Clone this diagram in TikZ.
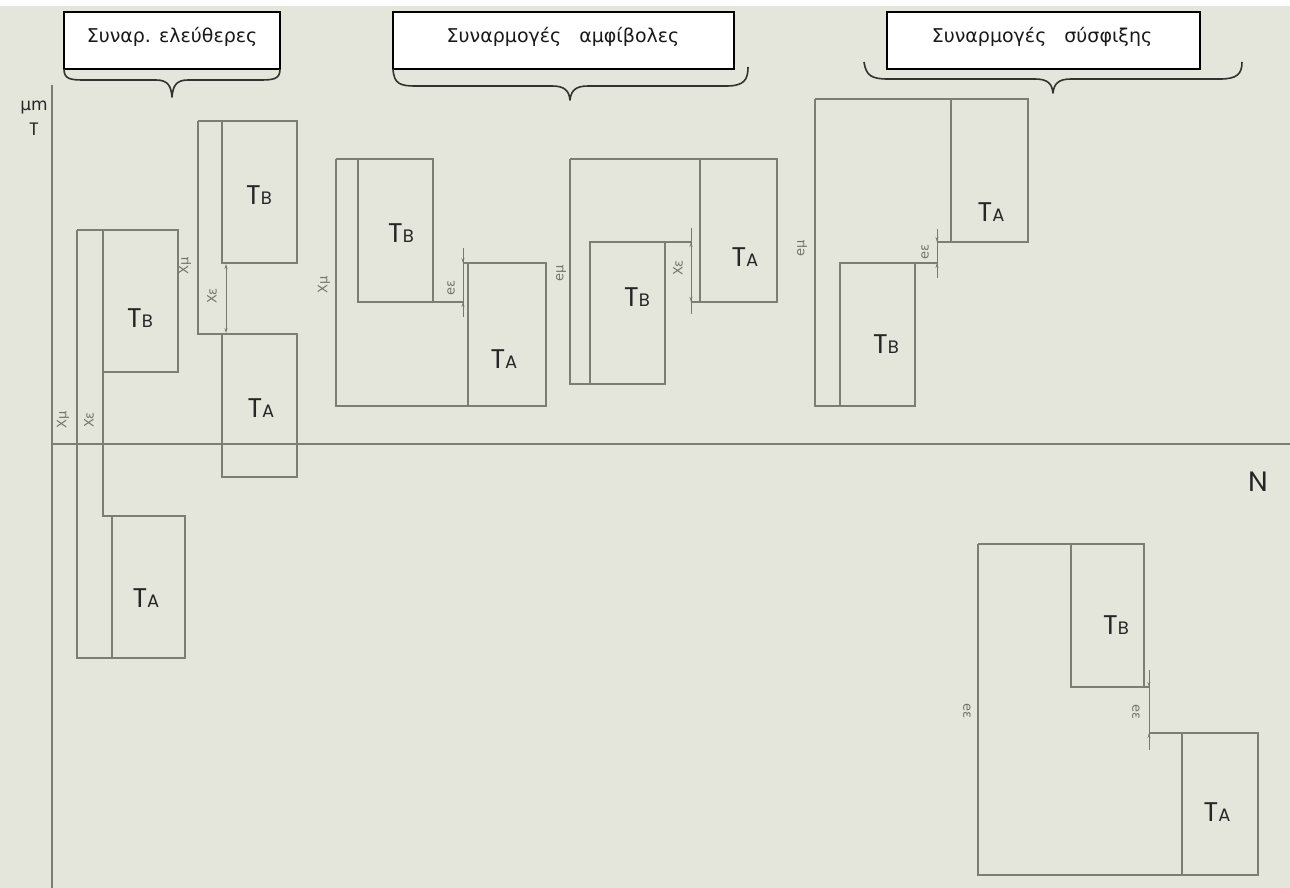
\documentclass[tikz,border=0pt]{standalone}
\usepackage{fontspec}
\setmainfont{DejaVu Sans}
\newfontfamily\lblfont{Poppins}
\usetikzlibrary{fit,arrows.meta}
\definecolor{bgc}{RGB}{229,230,219}
\definecolor{linec}{RGB}{125,125,117}
\definecolor{dimc}{RGB}{120,120,112}
\definecolor{dimtxt}{RGB}{115,115,108}
\definecolor{bracec}{RGB}{50,50,46}
\newcommand\tsubB{T{\fontsize{18}{18}\selectfont B}}
\newcommand\tsubA{T{\fontsize{18}{18}\selectfont A}}
\begin{document}
\begin{tikzpicture}[x=1pt,y=-1pt,
  rb/.style={draw=linec,line width=1.8pt,inner sep=0pt,outer sep=0pt},
  rl/.style={draw=linec,line width=1.8pt},
  dl/.style={draw=dimc,line width=0.9pt},
  arr/.style={-{Stealth[length=5pt,width=3pt]}},
  darr/.style={{Stealth[length=5pt,width=3pt]}-{Stealth[length=5pt,width=3pt]}},
  tl/.style={font=\lblfont\fontsize{27}{27}\selectfont,text=black!85,inner sep=0pt},
  dimlab/.style={font=\fontsize{13}{13}\selectfont,text=dimtxt,inner sep=0pt,rotate=90},
  dimlabr/.style={font=\fontsize{13}{13}\selectfont,text=dimtxt,inner sep=0pt,rotate=-90},
  hdr/.style={draw=black,line width=1.5pt,fill=white,inner sep=0pt,outer sep=0pt},
  hdrtxt/.style={font=\fontsize{19}{19}\selectfont,text=black!90,inner sep=0pt},
  brace/.style={draw=bracec,line width=1.6pt,line join=round},
  axis/.style={draw=linec,line width=1.8pt}]
\useasboundingbox (0,0) rectangle (1290,888);
\fill[bgc] (0,0) rectangle (1290,888);
\fill[white] (0,0) rectangle (1290,6);

% axes
\coordinate (ay0) at (52,85);
\coordinate (ay1) at (52,888);
\coordinate (ax0) at (52,444);
\coordinate (ax1) at (1290,444);
\draw[axis] (ay0) -- (ay1);
\draw[axis] (ax0) -- (ax1);
\node[font=\fontsize{17}{17}\selectfont,text=black!85,inner sep=0pt] (um) at (34,108) {μm};
\node[font=\lblfont\fontsize{18}{18}\selectfont,text=black!85,inner sep=0pt] (tt) at (34,129) {T};
\node[font=\lblfont\fontsize{28}{28}\selectfont,text=black!85,inner sep=0pt] (nn) at (1258,482) {N};

% headers
\node[hdr,fit={(64,12) (280,69)}] (h1) {};
\node[hdrtxt] (h1t) at (172,37) {Συναρ. ελεύθερες};
\node[hdr,fit={(393,12) (734,69)}] (h2) {};
\node[hdrtxt] (h2t) at (563,37) {Συναρμογές\hspace{18pt}αμφίβολες};
\node[hdr,fit={(887,12) (1200,69)}] (h3) {};
\node[hdrtxt] (h3t) at (1042,37) {Συναρμογές\hspace{18pt}σύσφιξης};

% braces
\draw[brace] (h1.south west) .. controls (64,79) and (70,80) .. (84,80) -- (156,80)
  .. controls (168,80) and (171,86) .. (172,97) .. controls (173,86) and (176,80) .. (188,80)
  -- (260,80) .. controls (274,80) and (280,79) .. (h1.south east);
\draw[brace] (h2.south west) .. controls (394,84) and (400,86) .. (416,86) -- (552,86)
  .. controls (565,86) and (569,91) .. (570,100) .. controls (571,91) and (575,86) .. (588,86)
  -- (726,86) .. controls (744,86) and (748,80) .. (748,67);
\draw[brace] (864,62) .. controls (866,76) and (872,79) .. (888,79) -- (1035,79)
  .. controls (1048,79) and (1052,84) .. (1053,93) .. controls (1054,84) and (1058,79) .. (1071,79)
  -- (1220,79) .. controls (1237,79) and (1242,74) .. (1242,62);

% ---------- group 1: free fits ----------
\node[rb,fit={(222,121) (297,263)}] (u1b) {};
\node[rb,fit={(222,334) (297,477)}] (u1a) {};
\node[tl] (u1bt) at (259,195) {\tsubB};
\node[tl] (u1at) at (261,408) {\tsubA};
\coordinate (u1o) at (198,121);
\coordinate (u1p) at (198,334);
\draw[rl] (u1o) -- (u1b.north west);
\draw[rl] (u1o) -- (u1p) -- (u1a.north west);
\draw[dl,darr] (226,264) -- (226,333);
\node[dimlab] (u1xm) at (185,266) {Xμ};
\node[dimlab] (u1xe) at (212,296) {Xε};

\node[rb,fit={(103,230) (178,372)}] (l1b) {};
\node[rb,fit={(112,516) (185,658)}] (l1a) {};
\node[tl] (l1bt) at (140,318) {\tsubB};
\node[tl] (l1at) at (146,598) {\tsubA};
\coordinate (l1o) at (77,230);
\coordinate (l1p) at (77,658);
\coordinate (l1q) at (103,516);
\draw[rl] (l1o) -- (l1b.north west);
\draw[rl] (l1o) -- (l1p) -- (l1a.south west);
\draw[rl] (l1b.south west) -- (l1q) -- (l1a.north west);
\node[dimlab] (l1xm) at (63,420) {Xμ};
\node[dimlab] (l1xe) at (89,420) {Xε};

% ---------- group 2: transition fits ----------
\node[rb,fit={(358,159) (433,302)}] (a1b) {};
\node[rb,fit={(468,263) (546,406)}] (a1a) {};
\node[tl] (a1bt) at (401,233) {\tsubB};
\node[tl] (a1at) at (504,359) {\tsubA};
\coordinate (a1o) at (336,159);
\coordinate (a1p) at (336,406);
\coordinate (a1q) at (463,302);
\coordinate (a1r) at (463,263);
\draw[rl] (a1o) -- (a1b.north west);
\draw[rl] (a1o) -- (a1p) -- (a1a.south west);
\draw[rl] (a1b.south east) -- (a1q);
\draw[rl] (a1r) -- (a1a.north west);
\draw[dl] (463,248) -- (463,317);
\draw[dl,arr] (463,250) -- (a1r);
\draw[dl,arr] (463,315) -- (a1q);
\node[dimlab] (a1xm) at (324,285) {Xμ};
\node[dimlab] (a1ee) at (451,288) {eε};

\node[rb,fit={(590,242) (665,384)}] (b1b) {};
\node[rb,fit={(700,159) (777,302)}] (b1a) {};
\node[tl] (b1bt) at (637,297) {\tsubB};
\node[tl] (b1at) at (745,257) {\tsubA};
\coordinate (b1o) at (570,159);
\coordinate (b1p) at (570,384);
\coordinate (b1q) at (691,242);
\coordinate (b1r) at (691,302);
\draw[rl] (b1o) -- (b1a.north west);
\draw[rl] (b1o) -- (b1p) -- (b1b.south west);
\draw[rl] (b1b.north east) -- (b1q);
\draw[rl] (b1r) -- (b1a.south west);
\draw[dl] (691,228) -- (691,314);
\draw[dl,darr] (b1q) -- (b1r);
\node[dimlab] (b1em) at (561,273) {eμ};
\node[dimlab] (b1xe) at (678,268) {Xε};

% ---------- group 3: interference fits ----------
\node[rb,fit={(951,99) (1028,242)}] (c1a) {};
\node[rb,fit={(840,263) (915,406)}] (c1b) {};
\node[tl] (c1at) at (991,212) {\tsubA};
\node[tl] (c1bt) at (886,344) {\tsubB};
\coordinate (c1o) at (815,99);
\coordinate (c1p) at (815,406);
\coordinate (c1q) at (937,263);
\coordinate (c1r) at (937,242);
\draw[rl] (c1o) -- (c1a.north west);
\draw[rl] (c1o) -- (c1p) -- (c1b.south west);
\draw[rl] (c1b.north east) -- (c1q);
\draw[rl] (c1r) -- (c1a.south west);
\draw[dl] (937,229) -- (937,278);
\draw[dl,arr] (937,230) -- (c1r);
\draw[dl,arr] (937,277) -- (c1q);
\node[dimlab] (c1em) at (802,248) {eμ};
\node[dimlab] (c1ee) at (925,252) {eε};

% ---------- lower group ----------
\node[rb,fit={(1071,544) (1144,687)}] (d1b) {};
\node[rb,fit={(1182,733) (1258,875)}] (d1a) {};
\node[tl] (d1bt) at (1116,625) {\tsubB};
\node[tl] (d1at) at (1217,812) {\tsubA};
\coordinate (d1o) at (978,544);
\coordinate (d1p) at (978,875);
\coordinate (d1q) at (1149,687);
\coordinate (d1r) at (1149,733);
\draw[rl] (d1o) -- (d1b.north west);
\draw[rl] (d1o) -- (d1p) -- (d1a.south west);
\draw[rl] (d1b.south east) -- (d1q);
\draw[rl] (d1r) -- (d1a.north west);
\draw[dl] (1149,670) -- (1149,750);
\draw[dl,arr] (1149,672) -- (d1q);
\draw[dl,arr] (1149,748) -- (d1r);
\node[dimlabr] (d1ee1) at (967,711) {eε};
\node[dimlabr] (d1ee2) at (1136,712) {eε};
\end{tikzpicture}
\end{document}
